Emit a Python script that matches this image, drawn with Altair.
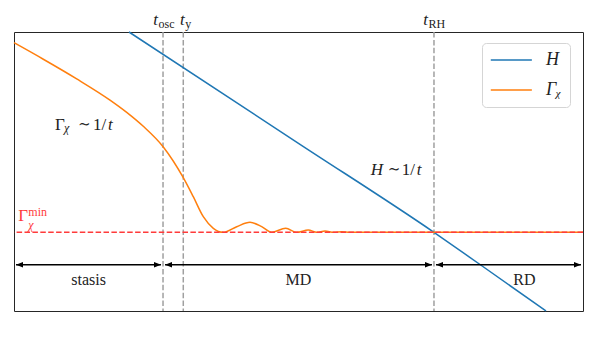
import altair as alt
import pandas as pd

# ---------------- data (log-time axis, arbitrary units 0..10) ----------------
gamma_t = [0.0, 0.515, 1.102, 1.687, 1.981, 2.272, 2.624, 2.975, 3.151, 3.327,
           3.503, 3.678, 3.914, 4.148, 4.353, 4.529, 4.775, 4.968, 5.172, 5.320,
           5.466, 5.62, 5.76, 5.90, 10.0]
gamma_v = [9.616, 9.024, 8.32, 7.56, 7.12, 6.62, 5.88, 4.78, 4.097, 3.380,
           2.964, 2.82, 3.022, 3.179, 3.022, 2.82, 2.964, 2.82, 2.903, 2.82,
           2.867, 2.82, 2.845, 2.82, 2.82]
H_t = [2.021, 5.026, 7.381, 8.19, 9.350]
H_v = [10.0, 5.975, 2.82, 1.667, 0.0]
series_names = ["H", "Γᵪ"]

event_subs = ["osc", "y", "RH"]
event_t = [2.619, 2.975, 7.381]
gamma_min = 2.82

region_names = ["stasis", "MD", "RD"]
region_start = [0.0, 2.619, 7.381]
region_end = [2.619, 7.381, 10.0]
region_label_x = [1.31, 5.0, 8.97]
arrow_y = 1.66
region_label_y = 0.93

# ---------------- chart ----------------
SERIF = "'Liberation Serif', 'DejaVu Serif', serif"
INK = "#222"
xs = alt.Scale(domain=[0, 10], nice=False, zero=False)
ys = alt.Scale(domain=[0, 10], nice=False, zero=False)
X = lambda f="x": alt.X(f"{f}:Q", scale=xs, axis=None)
Y = lambda f="y": alt.Y(f"{f}:Q", scale=ys, axis=None)

curves = pd.DataFrame({
    "x": H_t + gamma_t,
    "y": H_v + gamma_v,
    "s": [series_names[0]] * len(H_t) + [series_names[1]] * len(gamma_t),
})

base_x = alt.X("x:Q", scale=xs,
               axis=alt.Axis(domain=False, ticks=False, labels=False, grid=False,
                             title="log(t)", titleFont=SERIF, titleFontSize=16,
                             titleFontWeight="normal", titleColor=INK,
                             titlePadding=22))

vlines = alt.Chart(pd.DataFrame({"x": event_t})).mark_rule(
    color="#a0a0a0", strokeWidth=1.5, strokeDash=[5.5, 2.4]
).encode(x=X())

lines = alt.Chart(curves).mark_line(strokeWidth=1.5, interpolate="monotone").encode(
    x=base_x, y=Y(),
    color=alt.Color("s:N", scale=alt.Scale(domain=series_names,
                                           range=["#1f77b4", "#ff7f0e"]),
                    legend=alt.Legend(title=None, orient="none", legendX=468, legendY=11,
                                      symbolType="M-1,0H4", symbolSize=270,
                                      symbolStrokeWidth=1.5, labelFont=SERIF,
                                      labelFontSize=18, labelFontStyle="italic",
                                      labelColor=INK,
                                      labelOffset=38, rowPadding=12, padding=8,
                                      strokeColor="#d5d5d5", cornerRadius=4,
                                      fillColor="white")),
    detail="s:N",
)

red = "#ff3b3b"
redline = alt.Chart(pd.DataFrame({"y": [gamma_min]})).mark_rule(
    color=red, strokeWidth=1.5, strokeDash=[5.5, 2.4]
).encode(y=Y())

regions = pd.DataFrame({"name": region_names, "x": region_start, "x2": region_end,
                        "lx": region_label_x, "y": [arrow_y] * 3,
                        "ly": [region_label_y] * 3})
arrows = alt.Chart(regions).mark_rule(color="black", strokeWidth=1.5,
                                      xOffset=2, x2Offset=-2).encode(
    x=X("x"), x2="x2:Q", y=Y())
head_l = alt.Chart(regions).mark_point(shape="M0,0L1,-0.4L1,0.4Z", size=196,
                                       filled=True, color="black", opacity=1,
                                       xOffset=2).encode(x=X("x"), y=Y())
head_r = alt.Chart(regions).mark_point(shape="M0,0L-1,-0.4L-1,0.4Z", size=196,
                                       filled=True, color="black", opacity=1,
                                       xOffset=-2).encode(x=X("x2"), y=Y())
region_text = alt.Chart(regions).mark_text(font=SERIF, fontSize=16, color=INK,
                                           baseline="alphabetic").encode(
    x=X("lx"), y=Y("ly"), text="name:N")


def piece(x, y, s, dx=0, dy=0, size=17, style="normal", color=INK, align="left"):
    return alt.Chart(pd.DataFrame({"x": [x], "y": [y], "t": [s]})).mark_text(
        font=SERIF, fontSize=size, fontStyle=style, color=color, align=align,
        baseline="alphabetic", dx=dx, dy=dy).encode(x=X(), y=Y(), text="t:N")


texts = []
# event labels above the frame
offs = {"osc": -5.0, "y": 1.5, "RH": -6.0}
for sub, t in zip(event_subs, event_t):
    o = offs[sub]
    texts.append(piece(t, 10.25, "t", dx=o, size=17, style="italic", align="right"))
    texts.append(piece(t, 10.25, sub, dx=o + 0.5, dy=2.5, size=12))

# Gamma_chi ~ 1/t
gx, gy = 0.721, 6.487
texts += [piece(gx, gy, "Γ", 0), piece(gx, gy, "χ", 9, 2, 12, "italic"),
          piece(gx, gy, "∼", 23, -1, 15), piece(gx, gy, "1/", 38),
          piece(gx, gy, "t", 53, style="italic")]
# H ~ 1/t
hx, hy = 6.269, 4.875
texts += [piece(hx, hy, "H", 0, style="italic"), piece(hx, hy, "∼", 17, -1, 15),
          piece(hx, hy, "1/", 31), piece(hx, hy, "t", 46, style="italic")]
# Gamma_chi^min
rx, ry = 0.076, 3.237
texts += [piece(rx, ry, "Γ", 0, color=red),
          piece(rx, ry, "min", 10, -5, 12, color=red),
          piece(rx, ry, "χ", 10, 8, 12, "italic", color=red)]

chart = alt.layer(vlines, lines, redline, arrows, head_l, head_r, region_text,
                  *texts).properties(
    width=569, height=279, background="white",
    padding={"left": 6, "top": 24, "right": 7, "bottom": 40},
    autosize=alt.AutoSizeParams(type="none"),
).configure_view(stroke="#262626", strokeWidth=1)

chart.save("out.html", embed_options={"renderer": "svg", "actions": False})
